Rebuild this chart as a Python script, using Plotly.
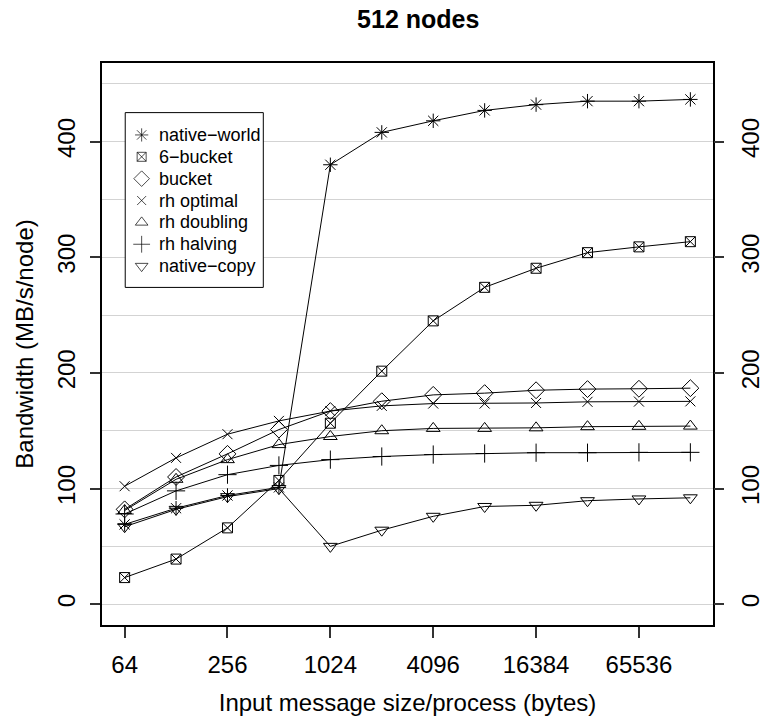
import numpy as np
import plotly.graph_objects as go

# ---- data ----
msg_sizes = [64, 128, 256, 512, 1024, 2048, 4096, 8192, 16384, 32768, 65536, 131072]
x_tick_vals = [64, 256, 1024, 4096, 16384, 65536]
x_tick_text = ["64", "256", "1024", "4096", "16384", "65536"]
y_tick_vals = [0, 100, 200, 300, 400]

native_world = [69, 83, 94, 101, 380, 408, 418, 427, 432, 435, 435, 436.5]
six_bucket = [23, 39, 66, 107, 156.5, 201.5, 245, 274, 290.5, 304, 309, 313.5]
bucket = [82, 110, 130, 151, 167, 175.5, 181, 182.5, 185, 186, 186.3, 186.8]
rh_optimal = [102, 126.5, 147, 158.5, 167, 171.5, 173.5, 173.5, 174, 175, 175.2, 175.4]
rh_doubling = [81, 108, 125, 138, 145, 150, 152, 152, 152.5, 153.5, 153.8, 154]
rh_halving = [78, 98, 112, 120, 125, 127.7, 129.4, 130.3, 131, 131, 131.3, 131.3]
native_copy = [67, 82, 93, 100, 50, 64, 76, 84.5, 85.5, 89.5, 91, 92]

series_names = ["native\u2212world", "6\u2212bucket", "bucket", "rh optimal",
                "rh doubling", "rh halving", "native\u2212copy"]
series_values = [native_world, six_bucket, bucket, rh_optimal,
                 rh_doubling, rh_halving, native_copy]
series_symbols = ["asterisk-open", "square-x-open", "diamond-open", "x-thin-open",
                  "triangle-up-open", "cross-thin-open", "triangle-down-open"]
series_sizes = [12, 10, 13, 10, 12, 13, 12]

FONT = "Liberation Sans, Arial, Helvetica, sans-serif"

fig = go.Figure()
for vals in series_values:
    fig.add_trace(go.Scatter(
        x=msg_sizes, y=vals, mode="lines", showlegend=False,
        line=dict(color="black", width=1), hoverinfo="skip"))
for name, vals, sym, sz in zip(series_names, series_values, series_symbols, series_sizes):
    fig.add_trace(go.Scatter(
        x=msg_sizes, y=vals, mode="markers", name=name, showlegend=False,
        marker=dict(symbol=sym, size=sz, color="black",
                    line=dict(color="black", width=1))))

# invisible trace to activate right-hand axis
fig.add_trace(go.Scatter(x=[msg_sizes[0]], y=[0], yaxis="y2", mode="markers",
                         marker=dict(opacity=0), showlegend=False, hoverinfo="skip"))

# ---- custom legend (R-style, compact rows) on an overlay unit-square axis pair ----
leg_left, leg_right, leg_top, leg_bottom = 0.038, 0.264, 0.9117, 0.6007
row0, row_step = 0.872, 0.0389
sym_x, txt_x = 0.0649, 0.0905
n = len(series_names)
rows = [row0 - i * row_step for i in range(n)]
fig.add_trace(go.Scatter(
    x=[leg_left, leg_right, leg_right, leg_left, leg_left],
    y=[leg_bottom, leg_bottom, leg_top, leg_top, leg_bottom],
    xaxis="x2", yaxis="y3", mode="lines", fill="toself", fillcolor="white",
    line=dict(color="black", width=1), showlegend=False, hoverinfo="skip"))
fig.add_trace(go.Scatter(
    x=[sym_x] * n, y=rows, xaxis="x2", yaxis="y3", mode="markers", showlegend=False,
    hoverinfo="skip",
    marker=dict(symbol=series_symbols, size=[s - 1 for s in series_sizes], color="black",
                line=dict(color="black", width=1))))
for name, r in zip(series_names, rows):
    fig.add_annotation(x=txt_x, y=r, xref="x domain", yref="y domain", text=name,
                       showarrow=False, xanchor="left", yanchor="middle",
                       font=dict(family=FONT, size=18, color="black"))

lx0, lx1 = np.log10(msg_sizes[0]), np.log10(msg_sizes[-1])
pad = 0.04 * (lx1 - lx0)
y0, y1 = 0, 450
ypad = 0.04 * (y1 - y0)

axis_font = dict(family=FONT, size=24, color="black")

fig.update_layout(
    width=776, height=724,
    margin=dict(l=102, r=42, t=63, b=95),
    plot_bgcolor="white", paper_bgcolor="white",
    font=dict(family=FONT, color="black"),
    title=dict(text="<b>512 nodes</b>", x=0.539, xanchor="center",
               y=0.974, yanchor="middle",
               font=dict(family=FONT, size=25, color="black")),
    xaxis=dict(
        type="log", range=[lx0 - pad, lx1 + pad],
        tickvals=x_tick_vals, ticktext=x_tick_text,
        ticks="outside", ticklen=11, tickwidth=1.5, tickcolor="#333",
        showline=True, linecolor="black", linewidth=1.5, mirror=True,
        showgrid=False, zeroline=False, tickfont=axis_font,
        ticklabelstandoff=6,
        title=dict(text="Input message size/process (bytes)", font=axis_font, standoff=18),
    ),
    xaxis2=dict(overlaying="x", range=[0, 1], visible=False, fixedrange=True),
    yaxis=dict(
        range=[y0 - ypad, y1 + ypad], tickvals=y_tick_vals,
        ticks="outside", ticklen=10, tickwidth=1.5, tickcolor="#333",
        showline=True, linecolor="black", linewidth=1.5, mirror=True,
        showgrid=True, gridcolor="#d3d3d3", gridwidth=1.2,
        minor=dict(dtick=50, tick0=0, showgrid=True, gridcolor="#d3d3d3", gridwidth=1.2, ticks=""),
        zeroline=False, tickangle=-90, tickfont=axis_font,
        ticklabelstandoff=6,
        title=dict(text="Bandwidth (MB/s/node)", font=axis_font, standoff=12),
    ),
    yaxis2=dict(
        overlaying="y", side="right", range=[y0 - ypad, y1 + ypad],
        tickvals=y_tick_vals, ticks="outside", ticklen=10, tickwidth=1.5, tickcolor="#333",
        showgrid=False, zeroline=False, tickangle=-90, tickfont=axis_font,
        ticklabelstandoff=6, showline=False,
    ),
    yaxis3=dict(overlaying="y", range=[0, 1], visible=False, fixedrange=True),
    showlegend=False,
)

fig.write_html("out.html")
